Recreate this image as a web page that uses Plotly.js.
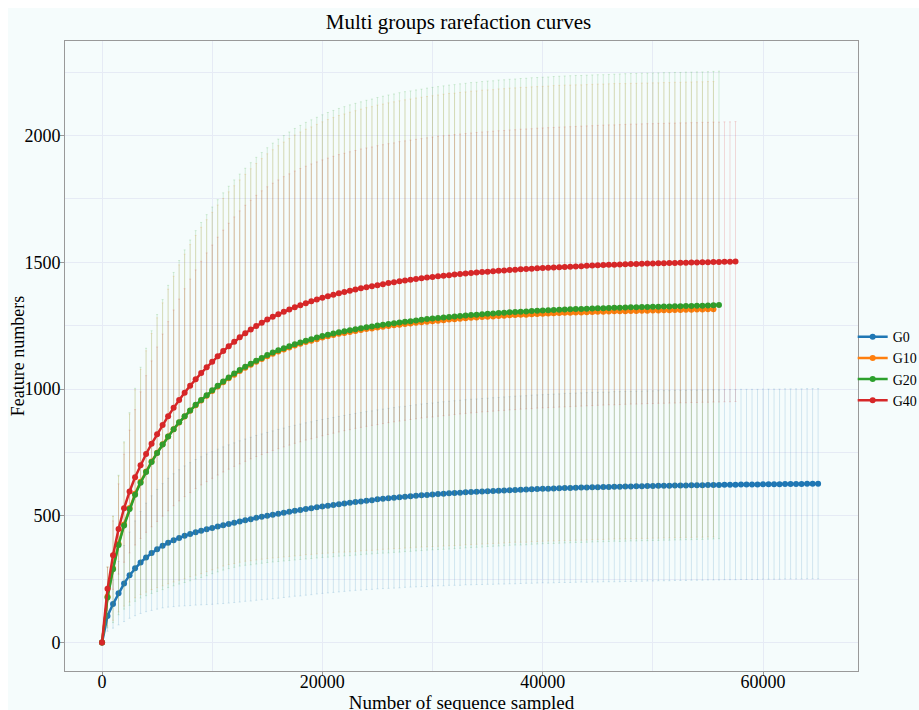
<!DOCTYPE html>
<html>
<head>
<meta charset="utf-8">
<script src="https://cdn.plot.ly/plotly-3.0.1.min.js"></script>
<style>
  html, body { margin: 0; padding: 0; background: #ffffff; overflow: hidden; }
  #chart { position: absolute; left: 8px; top: 8px; width: 960px; height: 720px; }
</style>
</head>
<body>
<div id="chart"></div>
<script>
// Sequencing depths at which every group was subsampled
const depths = [
  0,500,1000,1500,2000,2500,3000,3500,4000,4500,
  5000,5500,6000,6500,7000,7500,8000,8500,9000,9500,
  10000,10500,11000,11500,12000,12500,13000,13500,14000,14500,
  15000,15500,16000,16500,17000,17500,18000,18500,19000,19500,
  20000,20500,21000,21500,22000,22500,23000,23500,24000,24500,
  25000,25500,26000,26500,27000,27500,28000,28500,29000,29500,
  30000,30500,31000,31500,32000,32500,33000,33500,34000,34500,
  35000,35500,36000,36500,37000,37500,38000,38500,39000,39500,
  40000,40500,41000,41500,42000,42500,43000,43500,44000,44500,
  45000,45500,46000,46500,47000,47500,48000,48500,49000,49500,
  50000,50500,51000,51500,52000,52500,53000,53500,54000,54500,
  55000,55500,56000,56500,57000,57500,58000,58500,59000,59500,
  60000,60500,61000,61500,62000,62500,63000,63500,64000,64500,
  65000
];

const groupNames = ['G0', 'G10', 'G20', 'G40'];

// G0: mean observed features and standard deviation per depth
const meanG0 = [
  0,105,152,195,233,266,293,316,336,353,
  368,382,394,404,413,421,428,435,441,447,
  452,458,463,468,473,478,483,487,492,496,
  500,504,508,512,516,520,523,527,530,534,
  537,540,543,546,549,552,555,557,560,562,
  565,567,569,571,573,575,577,579,581,582,
  584,586,587,589,590,591,593,594,595,596,
  597,598,599,600,601,602,603,604,605,606,
  607,607,608,609,610,610,611,612,612,613,
  613,614,614,615,615,616,616,617,617,618,
  618,619,619,619,620,620,620,621,621,621,
  622,622,622,623,623,623,624,624,624,624,
  625,625,625,625,626,626,626,626,627,627,
  627
];
const sdG0 = [
  0,60,95,125,150,170,187,201,214,226,
  236,245,254,262,269,276,282,287,292,297,
  301,305,309,312,315,318,320,323,325,327,
  329,331,333,334,336,337,339,340,341,342,
  343,344,345,346,347,348,349,350,351,352,
  353,354,355,356,357,357,358,359,360,361,
  361,362,363,363,364,365,365,366,366,367,
  367,368,368,369,369,370,370,370,371,371,
  371,372,372,372,373,373,373,373,374,374,
  374,374,374,375,375,375,375,375,375,375,
  375,375,375,375,375,375,375,375,375,375,
  375,375,375,375,375,375,375,375,375,375,
  375,375,375,375,375,375,375,375,375,375,
  375
];

// G10
const meanG10 = [
  0,182,293,389,466,531,587,634,675,714,
  749,782,813,842,868,892,915,936,955,974,
  992,1010,1027,1043,1057,1071,1084,1096,1108,1119,
  1130,1139,1148,1156,1164,1172,1179,1186,1191,1197,
  1203,1208,1213,1218,1221,1225,1229,1233,1237,1239,
  1243,1246,1249,1252,1254,1257,1259,1262,1264,1266,
  1268,1270,1272,1274,1275,1277,1279,1281,1282,1284,
  1285,1286,1288,1289,1291,1292,1293,1293,1295,1296,
  1297,1298,1299,1300,1301,1301,1302,1302,1303,1304,
  1305,1305,1306,1307,1307,1307,1308,1308,1309,1309,
  1310,1310,1311,1311,1312,1312,1313,1313,1314,1314,
  1315,1315
];
const sdG10 = [
  0,117,205,268,322,371,410,444,476,505,
  532,558,581,603,622,640,655,670,683,694,
  705,716,725,735,745,754,763,773,782,790,
  798,805,812,818,824,830,835,839,843,847,
  851,855,858,861,864,867,869,871,873,875,
  877,878,880,881,883,884,885,886,887,888,
  889,890,891,892,892,893,893,894,894,895,
  895,895,896,896,896,896,897,897,897,897,
  897,897,898,898,898,898,898,898,898,898,
  898,898,898,898,898,898,898,898,898,898,
  898,898,898,898,898,898,898,898,898,898,
  898,898
];

// G20
const meanG20 = [
  0,178,289,385,462,527,583,631,673,712,
  748,781,813,842,869,893,916,938,957,976,
  995,1013,1030,1046,1061,1075,1088,1100,1112,1123,
  1134,1144,1153,1161,1169,1177,1184,1191,1197,1203,
  1209,1214,1219,1224,1228,1232,1236,1240,1244,1247,
  1251,1254,1257,1260,1263,1266,1268,1271,1273,1276,
  1278,1280,1282,1284,1286,1288,1290,1292,1293,1295,
  1297,1298,1300,1301,1303,1304,1305,1306,1308,1309,
  1310,1311,1312,1313,1314,1315,1316,1316,1317,1318,
  1319,1319,1320,1321,1321,1322,1323,1323,1324,1324,
  1325,1325,1326,1326,1327,1327,1328,1328,1329,1329,
  1330,1331,1332
];
const sdG20 = [
  0,120,210,275,330,380,420,455,488,518,
  546,572,596,618,638,656,672,687,700,712,
  723,734,744,754,764,773,783,793,802,810,
  818,826,833,839,845,851,856,861,865,869,
  873,877,880,883,886,889,891,893,895,897,
  899,901,903,904,906,907,908,909,910,911,
  912,913,914,915,915,916,916,917,917,918,
  918,918,919,919,919,919,920,920,920,920,
  920,920,921,921,921,921,921,921,921,921,
  921,921,921,921,922,922,922,922,922,922,
  922,922,922,922,922,922,922,922,922,922,
  922,922,922
];

// G40
const meanG40 = [
  0,212,345,448,530,596,652,700,744,784,
  822,858,893,926,957,986,1013,1039,1063,1086,
  1108,1130,1150,1169,1187,1204,1220,1235,1249,1262,
  1274,1285,1295,1305,1314,1323,1331,1339,1346,1353,
  1360,1366,1372,1378,1383,1388,1393,1398,1402,1406,
  1410,1414,1418,1421,1425,1428,1431,1434,1437,1440,
  1442,1445,1447,1449,1452,1454,1456,1458,1460,1462,
  1463,1465,1467,1468,1470,1471,1473,1474,1475,1477,
  1478,1479,1480,1481,1482,1483,1484,1485,1486,1487,
  1488,1489,1490,1490,1491,1492,1493,1493,1494,1495,
  1495,1496,1496,1497,1497,1498,1498,1499,1499,1500,
  1500,1501,1501,1502,1502,1503
];
const sdG40 = [
  0,85,135,178,213,242,267,289,309,327,
  344,359,373,386,398,410,421,431,441,451,
  460,469,477,485,492,499,505,510,515,520,
  524,527,530,533,535,537,539,540,542,543,
  544,545,546,547,547,548,548,549,549,549,
  550,550,550,550,551,551,551,551,551,551,
  552,552,552,552,552,552,552,552,552,552,
  552,552,552,552,552,552,552,552,552,552,
  552,552,552,552,552,552,552,552,552,552,
  552,552,552,552,552,552,552,552,552,552,
  552,552,552,552,552,552,552,552,552,552,
  552,552,552,552,552,552
];

const means = [meanG0, meanG10, meanG20, meanG40];
const sds = [sdG0, sdG10, sdG20, sdG40];

const lineColors = ['#1f77b4', '#ff7f0e', '#2ca02c', '#d62728'];
const barColors = ['rgba(31,119,180,0.17)', 'rgba(255,127,14,0.17)',
                   'rgba(44,160,44,0.17)', 'rgba(214,39,40,0.17)'];

const traces = groupNames.map((name, i) => ({
  type: 'scatter',
  mode: 'lines+markers',
  name: name,
  x: depths.slice(0, means[i].length),
  y: means[i],
  line: { color: lineColors[i], width: 2.5 },
  marker: { color: lineColors[i], size: 6 },
  error_y: {
    type: 'data',
    array: sds[i],
    symmetric: true,
    visible: true,
    color: barColors[i],
    thickness: 1,
    width: 1
  }
}));

const gridColor = '#e6ebf5';
const frameColor = '#999999';

const layout = {
  width: 960,
  height: 720,
  paper_bgcolor: '#f5fcfc',
  plot_bgcolor: '#f5fcfc',
  margin: { l: 57, r: 110, t: 33, b: 57 },
  font: { family: 'Liberation Serif, Times New Roman, serif', size: 18, color: '#000000' },
  title: {
    text: 'Multi groups rarefaction curves',
    font: { size: 21, color: '#000000' },
    x: 0.4693, xref: 'container', xanchor: 'center',
    y: 0.981, yref: 'container', yanchor: 'middle'
  },
  xaxis: {
    range: [-3360, 68620],
    tick0: 0, dtick: 20000, tickformat: 'd',
    ticks: 'outside', ticklen: 4, tickcolor: frameColor,
    ticklabelstandoff: -10,
    showline: true, mirror: true, linecolor: frameColor, linewidth: 1,
    showgrid: true, gridcolor: gridColor, zeroline: false,
    minor: { dtick: 10000, showgrid: true, gridcolor: gridColor, ticks: '' },
    title: { text: 'Number of sequence sampled', font: { size: 19 }, standoff: 0 }
  },
  yaxis: {
    range: [-112, 2373],
    tick0: 0, dtick: 500, tickformat: 'd',
    ticks: 'outside', ticklen: 4, tickcolor: frameColor,
    ticklabelstandoff: -4,
    showline: true, mirror: true, linecolor: frameColor, linewidth: 1,
    showgrid: true, gridcolor: gridColor, zeroline: false,
    minor: { dtick: 250, showgrid: true, gridcolor: gridColor, ticks: '' },
    title: { text: 'Feature numbers', font: { size: 18 }, standoff: 6 }
  },
  showlegend: true,
  legend: {
    x: 0.9933, xanchor: 'left',
    y: 0.48, yanchor: 'middle',
    font: { size: 14 },
    bgcolor: 'rgba(0,0,0,0)'
  }
};

Plotly.newPlot('chart', traces, layout, { displayModeBar: false, staticPlot: true });
</script>
</body>
</html>
